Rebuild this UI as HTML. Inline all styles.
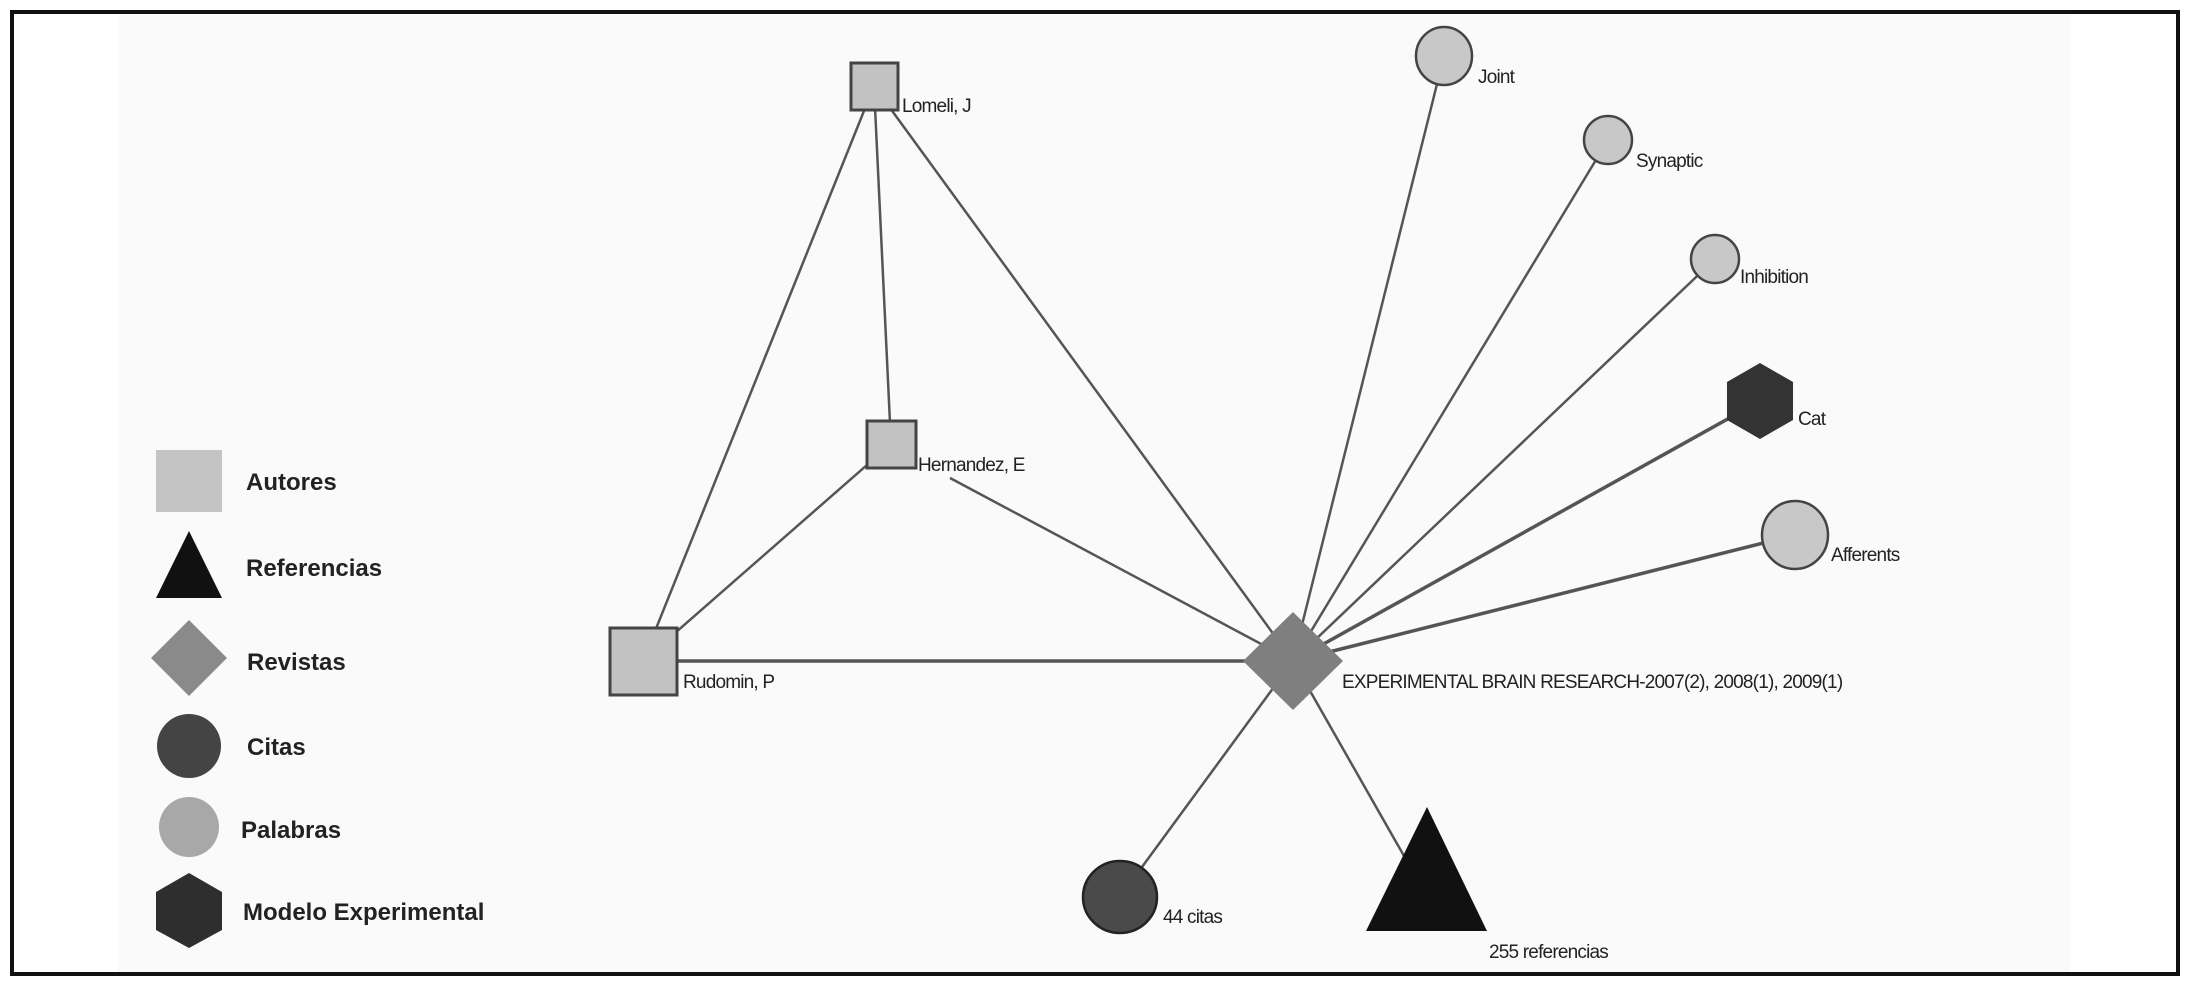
<!DOCTYPE html>
<html><head><meta charset="utf-8"><style>
html,body{margin:0;padding:0;background:#fff;}
svg{display:block;}
.n{font-family:"Liberation Sans",sans-serif;font-size:19px;fill:#222;letter-spacing:-0.8px;}
.l{font-family:"Liberation Sans",sans-serif;font-size:24px;font-weight:bold;fill:#222;}
</style></head><body>
<svg width="2192" height="989" viewBox="0 0 2192 989" xmlns="http://www.w3.org/2000/svg">
<rect x="0" y="0" width="2192" height="989" fill="#fff"/>
<rect x="118" y="14" width="1952" height="958" fill="#fafafa"/>
<rect x="12" y="12" width="2166" height="962" fill="none" stroke="#111" stroke-width="4"/>
<g stroke="#555" stroke-width="2.5" fill="none">
<line x1="874" y1="86" x2="643" y2="661"/>
<line x1="874" y1="86" x2="891" y2="444"/>
<line x1="874" y1="86" x2="1293" y2="661"/>
<line x1="891" y1="444" x2="643" y2="661"/>
<line x1="950" y1="478" x2="1293" y2="661"/>
<line x1="643" y1="661" x2="1293" y2="661" stroke-width="3.5"/>
<line x1="1293" y1="661" x2="1444" y2="56"/>
<line x1="1293" y1="661" x2="1608" y2="140"/>
<line x1="1293" y1="661" x2="1715" y2="259"/>
<line x1="1293" y1="661" x2="1760" y2="401" stroke-width="3.5"/>
<line x1="1293" y1="661" x2="1795" y2="535" stroke-width="3.5"/>
<line x1="1293" y1="661" x2="1120" y2="897"/>
<line x1="1293" y1="661" x2="1412" y2="870"/>
</g>
<rect x="851" y="63" width="47" height="47" fill="#c2c2c2" stroke="#444" stroke-width="3"/>
<rect x="867" y="421" width="49" height="47" fill="#c2c2c2" stroke="#444" stroke-width="3"/>
<rect x="610" y="628" width="67" height="67" fill="#c2c2c2" stroke="#444" stroke-width="3"/>
<polygon points="1293,612 1343,661 1293,710 1243,661" fill="#7f7f7f"/>
<ellipse cx="1444" cy="56" rx="28" ry="29" fill="#c8c8c8" stroke="#444" stroke-width="2.5"/>
<ellipse cx="1608" cy="140" rx="24" ry="24" fill="#c8c8c8" stroke="#444" stroke-width="2.5"/>
<ellipse cx="1715" cy="259" rx="24" ry="24" fill="#c8c8c8" stroke="#444" stroke-width="2.5"/>
<polygon points="1760,363 1793,382 1793,420 1760,439 1727,420 1727,382" fill="#333"/>
<ellipse cx="1795" cy="535" rx="33" ry="34" fill="#c8c8c8" stroke="#444" stroke-width="2.5"/>
<ellipse cx="1120" cy="897" rx="37" ry="36" fill="#4a4a4a" stroke="#222" stroke-width="2.5"/>
<polygon points="1427,807 1487,931 1366,931" fill="#111"/>
<text class="n" x="902" y="112">Lomeli, J</text>
<text class="n" x="918" y="471">Hernandez, E</text>
<text class="n" x="683" y="688">Rudomin, P</text>
<text class="n" x="1342" y="688">EXPERIMENTAL BRAIN RESEARCH-2007(2), 2008(1), 2009(1)</text>
<text class="n" x="1478" y="83">Joint</text>
<text class="n" x="1636" y="167">Synaptic</text>
<text class="n" x="1740" y="283">Inhibition</text>
<text class="n" x="1798" y="425">Cat</text>
<text class="n" x="1831" y="561">Afferents</text>
<text class="n" x="1163" y="923">44 citas</text>
<text class="n" x="1489" y="958">255 referencias</text>
<rect x="156" y="450" width="66" height="62" fill="#c4c4c4"/>
<polygon points="189,531 222,598 156,598" fill="#111"/>
<polygon points="189,620 227,658 189,696 151,658" fill="#8a8a8a"/>
<circle cx="189" cy="746" r="32" fill="#444"/>
<circle cx="189" cy="827" r="30" fill="#a8a8a8"/>
<polygon points="189,873 222,892 222,930 189,948 156,930 156,892" fill="#2e2e2e"/>
<text class="l" x="246" y="490">Autores</text>
<text class="l" x="246" y="576">Referencias</text>
<text class="l" x="247" y="670">Revistas</text>
<text class="l" x="247" y="755">Citas</text>
<text class="l" x="241" y="838">Palabras</text>
<text class="l" x="243" y="920">Modelo Experimental</text>
</svg>
</body></html>
